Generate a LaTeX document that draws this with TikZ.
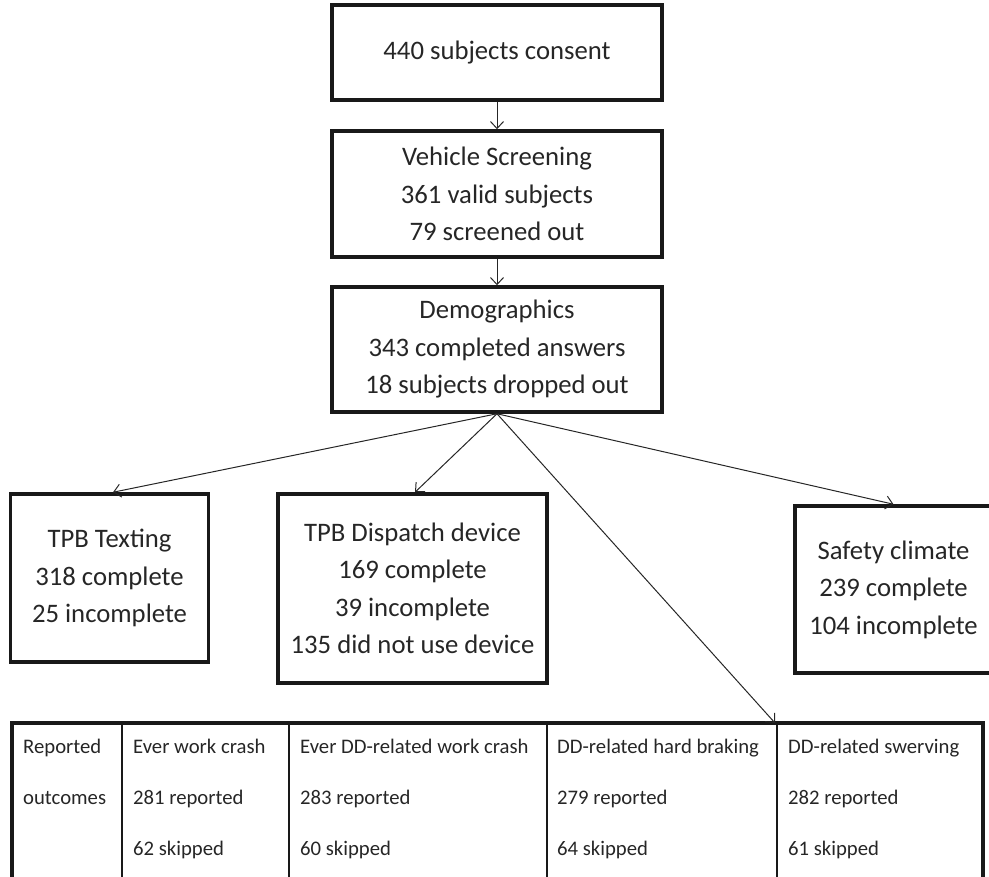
\documentclass[tikz,border=0pt]{standalone}
\usepackage{fontspec}
\setmainfont{Carlito}
\usetikzlibrary{arrows.meta}
\tikzset{
  box/.style={draw=black!90, line width=3.5pt, align=center, inner sep=0pt, text=black!85,
    font=\fontsize{26.7}{37.5}\selectfont},
  conn/.style={line width=1pt, draw=black!85, -{Straight Barb[length=7pt,width=13pt]}},
  cell/.style={anchor=base west, inner sep=0pt, text=black!85, font=\fontsize{20.7}{24}\selectfont},
}
\begin{document}
\begin{tikzpicture}[x=1pt,y=-1pt]
\useasboundingbox (0,0) rectangle (989,877);
\node[box, minimum width=330pt, minimum height=95pt] (consent) at (497,52.5) {440 subjects consent};
\node[box, minimum width=330pt, minimum height=126pt] (screen) at (497,194) {Vehicle Screening\\361 valid subjects\\79 screened out};
\node[box, minimum width=330pt, minimum height=125pt] (demo) at (497,349.5) {Demographics\\343 completed answers\\18 subjects dropped out};
\node[box, minimum width=198pt, minimum height=168pt] (texting) at (109.5,578) {TPB Texting\\318 complete\\25 incomplete};
\node[box, minimum width=269pt, minimum height=189pt] (dispatch) at (412.5,588.5) {TPB Dispatch device\\169 complete\\39 incomplete\\135 did not use device};
\node[box, minimum width=197pt, minimum height=167pt] (safety) at (893.5,589.5) {Safety climate\\239 complete\\104 incomplete};
% table
\draw[line width=3.5pt, black!90] (12,895) -- (12,723) -- (983,723) -- (983,895);
\coordinate (tt) at (775,723);
\foreach \x in {122,289,547,777} \draw[line width=1.5pt, black!90] (\x,723) -- (\x,895);
\node[cell] (c11) at (23,753) {Reported};
\node[cell] (c21) at (23,804) {outcomes};
\node[cell] (c12) at (133,753) {Ever work crash};
\node[cell] (c22) at (133,804) {281 reported};
\node[cell] (c32) at (133,855) {62 skipped};
\node[cell] (c13) at (300,753) {Ever DD-related work crash};
\node[cell] (c23) at (300,804) {283 reported};
\node[cell] (c33) at (300,855) {60 skipped};
\node[cell] (c14) at (557,753) {DD-related hard braking};
\node[cell] (c24) at (557,804) {279 reported};
\node[cell] (c34) at (557,855) {64 skipped};
\node[cell] (c15) at (788,753) {DD-related swerving};
\node[cell] (c25) at (788,804) {282 reported};
\node[cell] (c35) at (788,855) {61 skipped};
% connectors
\draw[conn] (consent.south) -- (screen.north);
\draw[conn] (screen.south) -- (demo.north);
\draw[conn] (demo.south) -- ([xshift=3.5pt]texting.north);
\draw[conn] (demo.south) -- ([xshift=2.5pt]dispatch.north);
\draw[conn] (demo.south) -- (safety.north);
\draw[conn] (demo.south) -- (tt);
\end{tikzpicture}
\end{document}
